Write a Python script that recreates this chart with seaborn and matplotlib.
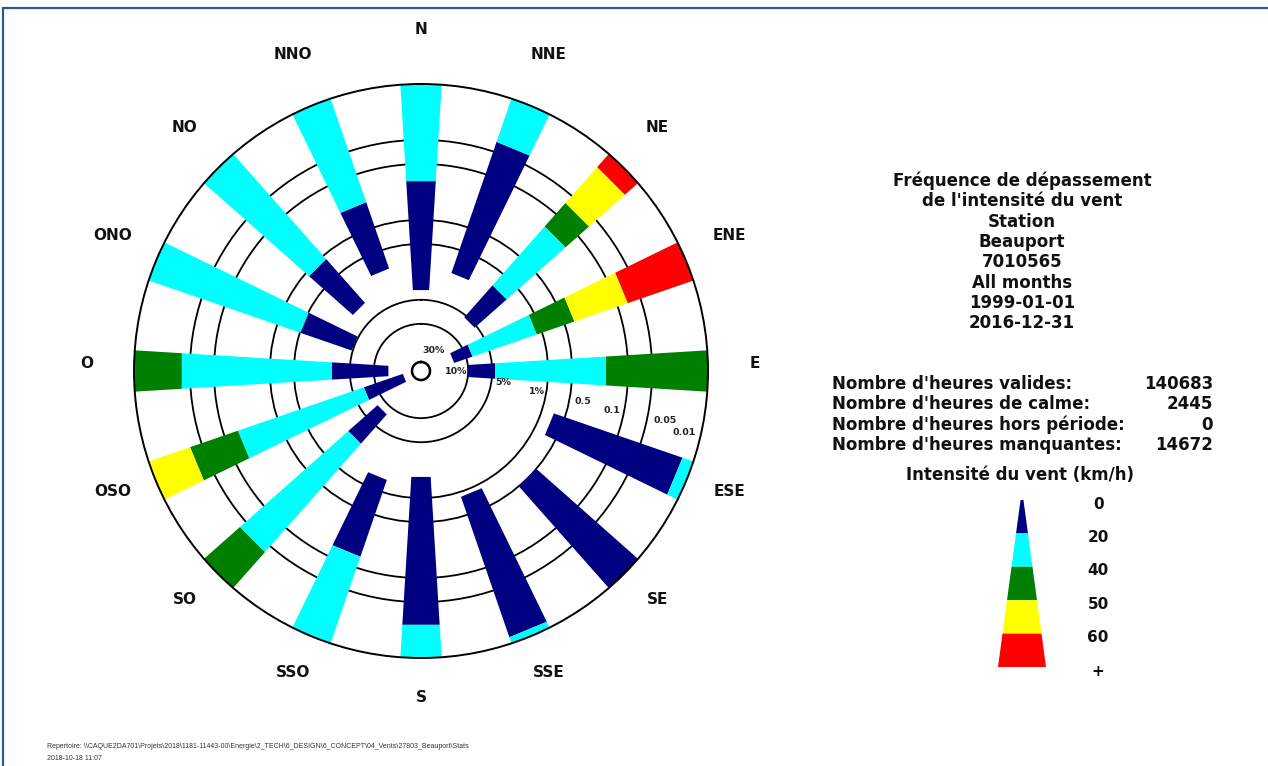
import numpy as np
import pandas as pd
import matplotlib
matplotlib.use("Agg")
import matplotlib.pyplot as plt
from matplotlib.patches import Polygon
from matplotlib.lines import Line2D
from matplotlib.transforms import offset_copy
import seaborn as sns

# ---------------- data ----------------
directions = ["N", "NNE", "NE", "ENE", "E", "ESE", "SE", "SSE",
              "S", "SSO", "SO", "OSO", "O", "ONO", "NO", "NNO"]
# frequency (% of valid hours) with wind from the direction exceeding each speed
exc_0 = [3.78, 2.05, 5.4, 14.7, 10.1, 0.71, 0.51, 0.88,
         1.84, 1.47, 8.0, 23.2, 15.2, 4.9, 3.1, 1.79]
exc_20 = [0.164, 0.038, 1.58, 8.4, 4.6, 0.0142, 0.0, 0.0123,
          0.026, 0.142, 2.6, 7.1, 2.97, 1.03, 0.575, 0.238]
exc_40 = [0.0, 0.0, 0.165, 1.19, 0.189, 0.0, 0.0, 0.0,
          0.0, 0.0, 0.0405, 0.154, 0.0396, 0.0, 0.0, 0.0]
exc_50 = [0.0, 0.0, 0.067, 0.38, 0.0, 0.0, 0.0, 0.0,
          0.0, 0.0, 0.0, 0.036, 0.0, 0.0, 0.0, 0.0]
exc_60 = [0.0, 0.0, 0.0169, 0.075, 0.0, 0.0, 0.0, 0.0,
          0.0, 0.0, 0.0, 0.0, 0.0, 0.0, 0.0, 0.0]

speed_labels = ["0", "20", "40", "50", "60", "+"]
class_colors = ["#000080", "#00FFFF", "#008000", "#FFFF00", "#FF0000"]
ring_freqs = [30, 10, 5, 1, 0.5, 0.1, 0.05, 0.01]
ring_labels = ["30%", "10%", "5%", "1%", "0.5", "0.1", "0.05", "0.01"]

title_lines = ["Fréquence de dépassement", "de l'intensité du vent", "Station",
               "Beauport", "7010565", "All months", "1999-01-01", "2016-12-31"]
stat_labels = ["Nombre d'heures valides:", "Nombre d'heures de calme:",
               "Nombre d'heures hors période:", "Nombre d'heures manquantes:"]
stat_values = ["140683", "2445", "0", "14672"]
legend_title = "Intensité du vent (km/h)"
footer_lines = [
    "Repertoire: \\\\CAQUE2DA701\\Projets\\2018\\1181-11443-00\\Energie\\2_TECH\\6_DESIGN\\6_CONCEPT\\04_Vents\\27803_Beauport\\Stats",
    "2018-10-18 11:07",
]

# ---------------- style ----------------
sns.set_theme(style="white")
plt.rcParams["font.family"] = ["DejaVu Sans"]
palette = sns.color_palette(class_colors)

W, H = 1268, 766
fig = plt.figure(figsize=(W / 100, H / 100), dpi=100, facecolor="white")


def fx(x):
    return x / W


def fy(y):
    return 1 - y / H


# ---------------- rose (polar axes, log-decade radial coordinate) ----------------
CX, CY, RPX = 421, 371, 287
ax = fig.add_axes([fx(CX - RPX), fy(CY + RPX), 2 * RPX / W, 2 * RPX / H],
                  projection="polar")
P_MAX, P_MIN = ring_freqs[0], ring_freqs[-1]
DMAX = np.log10(P_MAX / P_MIN)
INNER_PX = 9
R0 = INNER_PX * DMAX / (RPX - INNER_PX)


def dec(p):
    return np.log10(P_MAX / np.clip(np.asarray(p, float), P_MIN, P_MAX))


def rho_of(d):
    return (d + R0) / (DMAX + R0)


def d_of_rho(rho):
    return rho * (DMAX + R0) - R0


def d_of_px(px):
    return d_of_rho(px / RPX)


ax.set_theta_zero_location("N")
ax.set_theta_direction(-1)
ax.set_rlim(0, DMAX)
ax.set_rorigin(-R0)
ax.set_facecolor("white")

ax.set_xticks([])
ax.set_yticks(dec(ring_freqs[1:-1]))
ax.set_yticklabels([])
ax.yaxis.grid(True, color="black", lw=1.3)
ax.xaxis.grid(False)
ax.spines["polar"].set_color("black")
ax.spines["polar"].set_linewidth(1.4)
ax.spines["inner"].set_color("black")
ax.spines["inner"].set_linewidth(1.8)
ax.set_axisbelow(True)

exc = np.array([exc_0, exc_20, exc_40, exc_50, exc_60]).T
theta = np.deg2rad(np.arange(len(directions)) * 360 / len(directions))

rows = []
for i, name in enumerate(directions):
    for k in range(exc.shape[1]):
        lo = exc[i, k]
        hi = exc[i, k + 1] if k + 1 < exc.shape[1] else 0.0
        if lo < P_MIN:
            continue
        rows.append(dict(direction=name, theta=theta[i], cls=k,
                         d1=float(dec(lo)), d2=float(dec(hi))))
seg = pd.DataFrame(rows)

HW0, HWK = 3.2 / RPX, 0.061


def bar_poly(th, d1, d2):
    pts = []
    for d, s in [(d1, -1), (d1, 1), (d2, 1), (d2, -1)]:
        rho = rho_of(d)
        h = HW0 + HWK * rho
        pts.append((th + s * np.arctan2(h, rho), d_of_rho(np.hypot(rho, h))))
    return pts


for _, r in seg.iterrows():
    ax.add_patch(Polygon(bar_poly(r.theta, r.d1, r.d2), closed=True,
                         facecolor=palette[int(r.cls)], edgecolor="none", zorder=1))

# ring labels
ring_label_pos = [(32.6, 24), (90, 35), (98.1, 83), (100.1, 118),
                  (100.7, 165), (101.8, 195), (101.4, 249), (103.2, 270)]
for lab, (ang, px) in zip(ring_labels, ring_label_pos):
    ax.text(np.deg2rad(ang), d_of_px(px), lab, ha="center", va="center",
            fontsize=6.8, fontweight="bold", color="#222222", zorder=4)

# direction labels
dir_trans = offset_copy(ax.transData, fig=fig, x=0, y=7.5, units="dots")
for name, th in zip(directions, theta):
    ax.text(th, d_of_px(334), name, ha="center", va="center", fontsize=11,
            fontweight="bold", color="#111111", transform=dir_trans)

# ---------------- right-hand panel ----------------
TXT = 12
for i, line in enumerate(title_lines):
    fig.text(fx(1022), fy(181 + i * 20.3), line, ha="center", va="center",
             fontsize=TXT, fontweight="bold", color="#111111")

for i, (lab, val) in enumerate(zip(stat_labels, stat_values)):
    y = fy(384 + i * 20.4)
    fig.text(fx(832), y, lab, ha="left", va="center", fontsize=TXT,
             fontweight="bold", color="#111111")
    fig.text(fx(1213), y, val, ha="right", va="center", fontsize=TXT,
             fontweight="bold", color="#111111")

fig.text(fx(1020), fy(475), legend_title, ha="center", va="center",
         fontsize=TXT, fontweight="bold", color="#111111")

lax = fig.add_axes([fx(998), fy(667), 48 / W, 167 / H])
lax.set_xlim(-1, 1)
lax.set_ylim(len(class_colors), 0)
lax.axis("off")
LW0 = 0.06
n_cls = len(class_colors)
for k in range(n_cls):
    h1 = LW0 + (1 - LW0) * k / n_cls
    h2 = LW0 + (1 - LW0) * (k + 1) / n_cls
    lax.add_patch(Polygon([(-h1, k), (h1, k), (h2, k + 1), (-h2, k + 1)],
                          closed=True, facecolor=palette[k], edgecolor="none"))
for k, lab in enumerate(speed_labels):
    lax.text(3.17, k + 0.12, lab, ha="center", va="center", fontsize=11,
             fontweight="bold", color="#111111", clip_on=False)

# ---------------- footer & frame ----------------
fig.text(fx(47), fy(747), footer_lines[0], ha="left", va="center",
         fontsize=5, color="#333333", family=["Liberation Sans", "DejaVu Sans"])
fig.text(fx(47), fy(758), footer_lines[1], ha="left", va="center",
         fontsize=5, color="#333333", family=["Liberation Sans", "DejaVu Sans"])

fig.add_artist(Line2D([fx(3), 1.0], [fy(8), fy(8)], transform=fig.transFigure,
                      color="#2B579A", lw=1.6))
fig.add_artist(Line2D([fx(3), fx(3)], [fy(8), 0.0], transform=fig.transFigure,
                      color="#2B579A", lw=1.6))

fig.savefig("out.png", dpi=100, facecolor="white")
